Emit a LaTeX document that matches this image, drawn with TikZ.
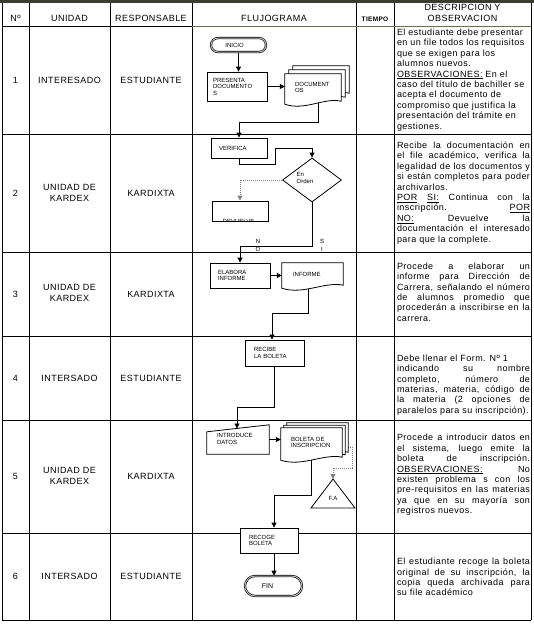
\documentclass[tikz,border=0pt]{standalone}
\usepackage{fontspec}
\setmainfont{Liberation Sans}[LetterSpace=5]
\newfontfamily\flowfont{Liberation Sans}
\usetikzlibrary{arrows.meta,shapes.geometric,calc}
\pgfdeclarelayer{lines}
\pgfdeclarelayer{shapes}
\pgfsetlayers{lines,shapes,main}
\definecolor{rulegray}{HTML}{6E6E50}
\definecolor{toprule}{HTML}{3C3C30}
\newcommand{\jl}[1]{\hbox to \hsize{#1}}
\newcommand{\rl}[1]{\hbox to \hsize{#1\hfil}}
\newcommand{\dbox}[1]{\vbox{\hsize=133pt\baselineskip=10.4pt\lineskiplimit=-10pt\lineskip=0pt #1}}
\newcommand{\ul}[1]{\underline{#1}}
\newcommand{\docshape}[3]{%
  \draw[fl, fill=white] ([xshift=#2,yshift=#3]#1.north west) -- ([xshift=#2,yshift=#3]#1.north east) -- ([xshift=#2,yshift=#3]#1.south east)
    .. controls ($([xshift=#2,yshift=#3]#1.south east)!0.3!([xshift=#2,yshift=#3]#1.south west)+(0,-4)$) and ($([xshift=#2,yshift=#3]#1.south east)!0.65!([xshift=#2,yshift=#3]#1.south west)+(0,10)$) .. ($([xshift=#2,yshift=#3]#1.south west)+(0,3)$) -- cycle;}
\begin{document}
\begin{tikzpicture}[x=1pt,y=-1pt,
  grid/.style={line width=0.9pt, black},
  fl/.style={line width=0.8pt, black},
  arr/.style={fl, -{Triangle[length=5pt,width=5pt]}},
  dott/.style={arr, dash pattern=on 1pt off 1pt, draw=gray},
  hdr/.style={font=\fontsize{9}{11}\selectfont, inner sep=0pt},
  cell/.style={font=\fontsize{9}{10.5}\selectfont, inner sep=0pt, align=center},
  desc/.style={inner sep=0pt, font=\fontsize{9}{10.4}\selectfont},
  ft/.style={font=\flowfont\fontsize{6}{6.5}\selectfont, inner sep=0pt, align=left},
  pbox/.style={ft, draw, line width=0.8pt, fill=white},
  term/.style={ft, draw, line width=0.6pt, double=gray!55, double distance=1pt, rounded corners=7pt, fill=white, align=center},
  diam/.style={draw, line width=0.8pt, fill=white, diamond, inner sep=0pt}
]
\useasboundingbox (0,0) rectangle (534,625);
\begin{pgfonlayer}{lines}
\fill[white] (0,0) rectangle (534,625);
\foreach \x in {2,29,110,192,356,394,531} \draw[grid] (\x,1.5) -- (\x,620);
\foreach \y in {134,252,336,420,533,620} \draw[grid] (2,\y) -- (531,\y);
\draw[grid] (2,26) -- (192,26);
\draw[grid, rulegray] (192,26) -- (531,26);
\draw[line width=2.5pt, toprule] (0,1.25) -- (534,1.25);
\end{pgfonlayer}

% header
\node[hdr, anchor=base] (hn) at (15.5,21.5) {Nº};
\node[hdr, anchor=base] (hu) at (69.5,21.5) {UNIDAD};
\node[hdr, anchor=base] (hr) at (151,21.5) {RESPONSABLE};
\node[hdr, anchor=base] (hf) at (274,21.5) {FLUJOGRAMA};
\node[hdr, anchor=base, font=\fontsize{6.5}{7}\selectfont\bfseries] (ht) at (375,21.5) {TIEMPO};
\node[hdr, align=center] (hd) at (462.5,13) {DESCRIPCION Y\\OBSERVACION};

% left columns
\node[cell] (n1) at (15.5,80) {1};
\node[cell] (u1) at (69.5,80) {INTERESADO};
\node[cell] (r1) at (151,80) {ESTUDIANTE};
\node[cell] (n2) at (15.5,193) {2};
\node[cell] (u2) at (69.5,193) {UNIDAD DE\\KARDEX};
\node[cell] (r2) at (151,193) {KARDIXTA};
\node[cell] (n3) at (15.5,294) {3};
\node[cell] (u3) at (69.5,293) {UNIDAD DE\\KARDEX};
\node[cell] (r3) at (151,294) {KARDIXTA};
\node[cell] (n4) at (15.5,378) {4};
\node[cell] (u4) at (69.5,378) {INTERSADO};
\node[cell] (r4) at (151,378) {ESTUDIANTE};
\node[cell] (n5) at (15.5,476) {5};
\node[cell] (u5) at (69.5,476) {UNIDAD DE\\KARDEX};
\node[cell] (r5) at (151,476) {KARDIXTA};
\node[cell] (n6) at (15.5,576.5) {6};
\node[cell] (u6) at (69.5,576.5) {INTERSADO};
\node[cell] (r6) at (151,576.5) {ESTUDIANTE};

% descriptions
\node[desc] (d1) at (463.5,80) {\dbox{%
\rl{El estudiante debe presentar}
\rl{en un file todos los requisitos}
\rl{que se exigen para los}
\rl{alumnos nuevos.}
\rl{\ul{OBSERVACIONES:} En el}
\rl{caso del título de bachiller se}
\rl{acepta el documento de}
\rl{compromiso que justifica la}
\rl{presentación del trámite en}
\rl{gestiones.}}};
\node[desc] (d2) at (463.5,193) {\dbox{%
\jl{Recibe la documentación en}
\jl{el file académico, verifica la}
\jl{legalidad de los documentos y}
\jl{si están completos para poder}
\rl{archivarlos.}
\jl{\ul{POR} \ul{SI:} Continua con la}
\jl{inscripción. \ul{POR}}
\jl{\ul{NO:} Devuelve la}
\jl{documentación el interesado}
\rl{para que la complete.}}};
\node[desc] (d3) at (463.5,292) {\dbox{%
\jl{Procede a elaborar un}
\jl{informe para Dirección de}
\jl{Carrera, señalando el número}
\jl{de alumnos promedio que}
\jl{procederán a inscribirse en la}
\rl{carrera.}}};
\node[desc] (d4) at (463.5,385) {\dbox{%
\rl{Debe llenar el Form. Nº 1}
\jl{indicando su nombre}
\jl{completo, número de}
\jl{materias, materia, código de}
\jl{la materia (2 opciones de}
\rl{paralelos para su inscripción).}}};
\node[desc] (d5) at (463.5,475) {\dbox{%
\jl{Procede a introducir datos en}
\jl{el sistema, luego emite la}
\jl{boleta de inscripción.}
\jl{\ul{OBSERVACIONES:} No}
\jl{existen problema s con los}
\jl{pre-requisitos en las materias}
\jl{ya que en su mayoría son}
\rl{registros nuevos.}}};
\node[desc] (d6) at (463.5,577) {\dbox{%
\jl{El estudiante recoge la boleta}
\jl{original de su inscripción, la}
\jl{copia queda archivada para}
\rl{su file académico}}};

% flowchart nodes
\node[term, minimum width=55pt, minimum height=14pt] (inicio) at (238.5,45) {INICIO\hspace{8pt}};
\node[pbox, text width=48pt, minimum width=60pt, minimum height=29pt] (pres) at (237,86.5) {PRESENTA\\DOCUMENTO\\S};
\node[ft, text width=36pt, minimum width=56pt, minimum height=27pt] (doc1) at (313,87.5) {DOCUMENT\\OS};
\node[pbox, text width=40pt, minimum width=56pt, minimum height=20pt] (verif) at (239,148) {VERIFICA};
\node[diam, minimum width=59pt, minimum height=44pt] (dia) at (312,180) {};
\node[ft] (diatxt) at (305,178) {En\\Orden};
\node[pbox, minimum width=56pt, minimum height=20pt] (dev) at (240,211) {};
\begin{scope}
\clip (212,201.5) rectangle (268,220.5);
\node[ft, anchor=base] (devtxt) at (238.5,223) {DEVUELVE};
\end{scope}
\node[ft] (lN) at (258,241.5) {N};
\node[ft] (lO) at (258,249.5) {O};
\node[ft] (lS) at (322,241.5) {S};
\node[ft] (lI) at (322,249.5) {I};
\node[pbox, text width=44pt, minimum width=60pt, minimum height=25pt] (elab) at (240,275.5) {ELABORA\\INFORME};
\node[ft, text width=39pt, minimum width=61pt, minimum height=22pt] (doc2) at (312.5,274) {\\[-2pt]INFORME};
\node[pbox, text width=41pt, minimum width=59pt, minimum height=26pt] (reci) at (274.5,353) {RECIBE\\LA BOLETA};
\node[ft, text width=42pt, minimum width=62pt, minimum height=29pt] (intro) at (238,439.5) {\\[-3pt]INTRODUCE\\DATOS};
\coordinate (intop) at (237,428.5);
\node[ft, text width=41pt, minimum width=61pt, minimum height=29pt] (doc3) at (311.5,442.5) {BOLETA DE\\INSCRIPCION};
\coordinate (fa) at (333,479);
\node[ft] (fatxt) at (333,498) {F.A};
\node[pbox, text width=40pt, minimum width=58pt, minimum height=25pt] (rec) at (269,540.5) {RECOGE\\BOLETA};
\node[term, minimum width=57pt, minimum height=20pt, rounded corners=10pt, font=\flowfont\fontsize{7}{8}\selectfont] (fin) at (273.5,586) {FIN\hspace{12pt}};

% shapes
\begin{pgfonlayer}{shapes}
\docshape{doc1}{8pt}{8pt}
\docshape{doc1}{4pt}{4pt}
\docshape{doc1}{0pt}{0pt}
\docshape{doc2}{0pt}{0pt}
\docshape{doc3}{6pt}{5pt}
\docshape{doc3}{3pt}{2.5pt}
\docshape{doc3}{0pt}{0pt}
\draw[fl, fill=white] ([yshift=-7pt]intro.north west) -- (intro.north east) -- (intro.south east) -- (intro.south west) -- cycle;
\draw[fl, fill=white] (fa) -- (355,508) -- (311,508) -- cycle;
\end{pgfonlayer}

% connectors
\coordinate (j1) at (239,122);
\coordinate (v1) at (275,164);
\coordinate (v2) at (275,148);
\coordinate (nb) at (240,246);
\coordinate (j3) at (272,313);
\coordinate (j4) at (237,407);
\coordinate (k1) at (352,468);
\coordinate (j5) at (274,495);
\begin{pgfonlayer}{lines}
\draw[arr] (inicio.south) -- (inicio.south |- pres.north);
\draw[arr] (pres.east) -- (pres.east -| doc1.west);
\draw[arr] ([xshift=5pt]doc1.south) |- (j1) -- (j1 |- verif.north);
\draw[arr] (verif.south) |- (v1) -- (v2) -| (dia.north);
\draw[dott] (dia.west) -| (dev.north);
\draw[arr] (dia.south) |- (nb) -- (nb |- elab.north);
\draw[arr] (elab.east) -- (elab.east -| doc2.west);
\draw[arr] ([xshift=-4.5pt]doc2.south) |- (j3) -- (j3 |- reci.north);
\draw[arr] (reci.south) |- (j4) -- (intop);
\draw[arr] (intro.east) -- (intro.east -| doc3.west);
\draw[dott] ([xshift=6pt,yshift=-4.5pt]doc3.east) -| (k1) -| (fa);
\draw[arr] (doc3.south) |- (j5) -- (j5 |- rec.north);
\draw[arr] (j5 |- rec.south) -- (j5 |- fin.north);
\end{pgfonlayer}
\end{tikzpicture}
\end{document}
